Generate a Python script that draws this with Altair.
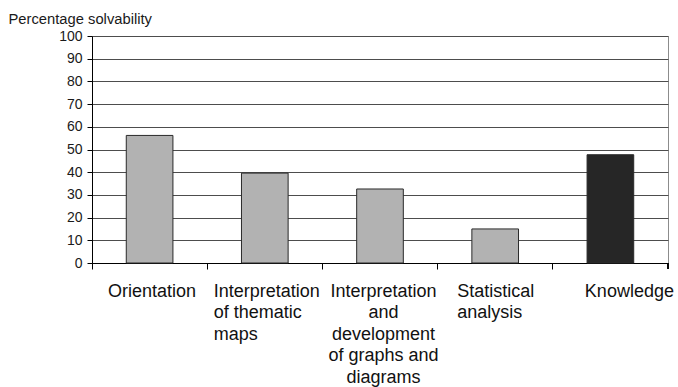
import altair as alt
import pandas as pd

# Solvability of test sections (percent)
categories = [
    "Orientation",
    "Interpretation of thematic maps",
    "Interpretation and development of graphs and diagrams",
    "Statistical analysis",
    "Knowledge",
]
values = [56.2, 39.6, 32.6, 15.0, 47.7]
# wrapped axis labels, "|" marks a line break
label_lines = [
    "Orientation",
    "Interpretation|of thematic|maps",
    "Interpretation|and|development|of graphs and|diagrams",
    "Statistical|analysis",
    "Knowledge",
]
y_ticks = list(range(0, 101, 10))

FONT = "Liberation Sans"
W, H = 576, 227

df = pd.DataFrame({"category": categories, "value": values, "label": label_lines})

x_enc = alt.X(
    "category:N",
    sort=categories,
    scale=alt.Scale(paddingInner=0, paddingOuter=0),
    axis=alt.Axis(
        title=None,
        labels=False,
        bandPosition=0,
        ticks=True,
        tickSize=6,
        tickColor="black",
        domainColor="black",
        grid=False,
    ),
)

bars = alt.Chart(df).mark_bar(
    width=alt.RelativeBandSize(0.405), stroke="#2a2a2a", strokeWidth=1
).encode(
    x=x_enc,
    y=alt.Y(
        "value:Q",
        scale=alt.Scale(domain=[0, 100], nice=False),
        axis=alt.Axis(
            values=y_ticks,
            title="Percentage solvability",
            titleAngle=0,
            titleAlign="left",
            titleBaseline="alphabetic",
            titleX=-84,
            titleY=-13,
            titleFont=FONT,
            titleFontSize=14.75,
            titleFontWeight="normal",
            titleColor="#1a1a1a",
            labelFont=FONT,
            labelFontSize=14,
            labelColor="#1a1a1a",
            labelPadding=5,
            tickSize=5,
            tickColor="black",
            domainColor="black",
            grid=True,
            gridColor="#4d4d4d",
            gridWidth=1,
        ),
    ),
    color=alt.condition(
        alt.datum.category == "Knowledge", alt.value("#262626"), alt.value("#b2b2b2")
    ),
)


def label_layer(cats, align, dx):
    return (
        alt.Chart(df)
        .transform_filter(alt.FieldOneOfPredicate(field="category", oneOf=cats))
        .mark_text(
            align=align,
            baseline="alphabetic",
            dx=dx,
            font=FONT,
            fontSize=18,
            lineHeight=21.5,
            lineBreak="|",
            color="#111111",
        )
        .encode(x=alt.X("category:N", sort=categories), y=alt.value(260.7), text="label:N")
    )


labels = [
    label_layer([categories[0]], "center", 2.5),
    label_layer([categories[1]], "left", -51),
    label_layer([categories[2]], "center", 3.5),
    label_layer([categories[3]], "left", -38),
    label_layer([categories[4]], "center", 19),
]

# closing tick at the right end of the category axis
end_tick = alt.Chart(df).mark_rule(color="black", strokeWidth=1).encode(
    x=alt.value(W), y=alt.value(H), y2=alt.value(H + 6)
)

chart = (
    alt.layer(bars, *labels, end_tick)
    .properties(
        width=W,
        height=H,
        autosize=alt.AutoSizeParams(type="none"),
        padding={"left": 92, "top": 36, "right": 10, "bottom": 124},
        background="white",
    )
    .configure_view(stroke="#8c8c8c", strokeWidth=1)
)

chart.save("out.html", embed_options={"renderer": "svg", "actions": False})
